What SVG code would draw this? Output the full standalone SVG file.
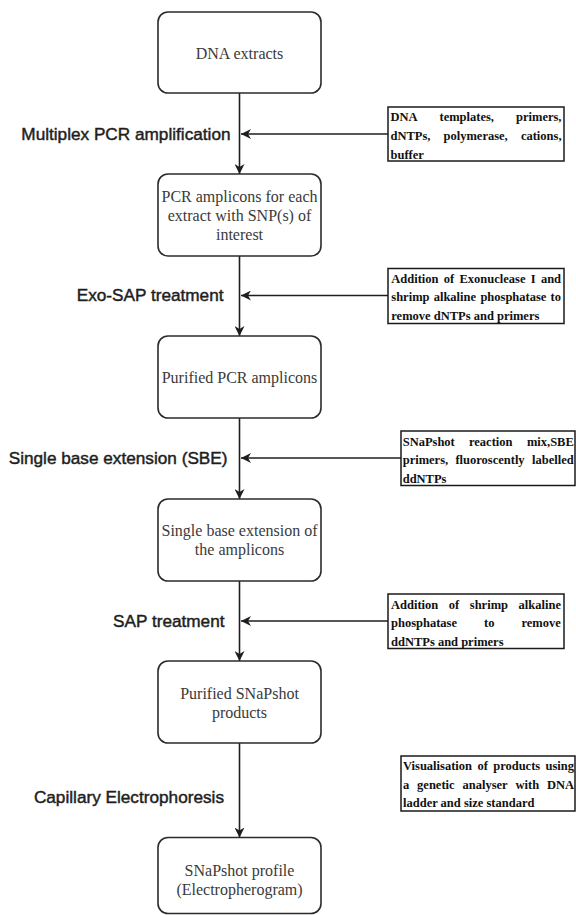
<svg xmlns="http://www.w3.org/2000/svg" width="576" height="915" viewBox="0 0 576 915">
  <style>
    .step { fill: #ffffff; stroke: #2b2b2b; stroke-width: 1.6; }
    .note { fill: #ffffff; stroke: #1a1a1a; stroke-width: 1.5; }
    .stepText { font-family: "Liberation Serif", "Times New Roman", serif; font-size: 16px; fill: #3a3a3a; text-anchor: middle; }
    .noteText { font-family: "Liberation Serif", "Times New Roman", serif; font-size: 12.5px; font-weight: bold; fill: #111111; }
    .label { font-family: "Liberation Sans", Arial, sans-serif; font-size: 17.2px; fill: #1e1e1e; stroke: #1e1e1e; stroke-width: 0.45; text-anchor: end; }
    .wire { fill: none; stroke: #1e1e1e; stroke-width: 1.6; }
  </style>
  <defs>
    <marker id="arrow" viewBox="0 0 10 10" refX="10" refY="5" markerWidth="10" markerHeight="10" markerUnits="userSpaceOnUse" orient="auto">
      <path d="M0,0 L10,5 L0,10 L3,5 Z" fill="#1e1e1e"/>
    </marker>
  </defs>

  <rect width="576" height="915" fill="#ffffff"/>

  <!-- connectors -->
  <g id="connectors">
    <path class="wire" d="M239.5,93 V174" marker-end="url(#arrow)"/>
    <path class="wire" d="M239.5,256 V336" marker-end="url(#arrow)"/>
    <path class="wire" d="M239.5,418 V499" marker-end="url(#arrow)"/>
    <path class="wire" d="M239.5,581 V661" marker-end="url(#arrow)"/>
    <path class="wire" d="M239.5,743 V837.5" marker-end="url(#arrow)"/>
    <path class="wire" d="M388,134 H241" marker-end="url(#arrow)"/>
    <path class="wire" d="M388,295.5 H241" marker-end="url(#arrow)"/>
    <path class="wire" d="M401,458 H241" marker-end="url(#arrow)"/>
    <path class="wire" d="M388,621 H241" marker-end="url(#arrow)"/>
  </g>

  <!-- process steps -->
  <g id="step-dna-extracts">
    <rect class="step" x="158" y="12" width="163" height="81" rx="10"/>
    <text class="stepText" x="239.5" y="59">DNA extracts</text>
  </g>
  <g id="step-pcr-amplicons">
    <rect class="step" x="158" y="174" width="163" height="82" rx="10"/>
    <text class="stepText" x="239.5" y="202">PCR amplicons for each</text>
    <text class="stepText" x="239.5" y="221">extract with SNP(s) of</text>
    <text class="stepText" x="239.5" y="240">interest</text>
  </g>
  <g id="step-purified-pcr">
    <rect class="step" x="158" y="336" width="163" height="82" rx="10"/>
    <text class="stepText" x="239.5" y="383">Purified PCR amplicons</text>
  </g>
  <g id="step-sbe-amplicons">
    <rect class="step" x="158" y="499" width="163" height="82" rx="10"/>
    <text class="stepText" x="239.5" y="536">Single base extension of</text>
    <text class="stepText" x="239.5" y="555">the amplicons</text>
  </g>
  <g id="step-purified-snapshot">
    <rect class="step" x="158" y="661" width="163" height="82" rx="10"/>
    <text class="stepText" x="239.5" y="698.5">Purified SNaPshot</text>
    <text class="stepText" x="239.5" y="717.5">products</text>
  </g>
  <g id="step-snapshot-profile">
    <rect class="step" x="158" y="837.5" width="163" height="76" rx="10"/>
    <text class="stepText" x="239.5" y="876">SNaPshot profile</text>
    <text class="stepText" x="239.5" y="895">(Electropherogram)</text>
  </g>

  <!-- step labels -->
  <g id="label-multiplex"><text class="label" x="230.5" y="140">Multiplex PCR amplification</text></g>
  <g id="label-exosap"><text class="label" x="223.5" y="301">Exo-SAP treatment</text></g>
  <g id="label-sbe"><text class="label" x="227.5" y="464">Single base extension (SBE)</text></g>
  <g id="label-sap"><text class="label" x="224.5" y="627">SAP treatment</text></g>
  <g id="label-ce"><text class="label" x="224" y="803">Capillary Electrophoresis</text></g>

  <!-- reagent notes (justified text, words placed individually) -->
  <g id="note-pcr-reagents">
    <rect class="note" x="388" y="107" width="176" height="54"/>
    <text class="noteText" y="121"><tspan x="390.5">DNA</tspan><tspan x="439.5">templates,</tspan><tspan x="516">primers,</tspan></text>
    <text class="noteText" y="140"><tspan x="390.5">dNTPs,</tspan><tspan x="443.5">polymerase,</tspan><tspan x="520.9">cations,</tspan></text>
    <text class="noteText" y="159"><tspan x="390.5">buffer</tspan></text>
  </g>
  <g id="note-exosap">
    <rect class="note" x="388" y="268.5" width="176" height="55"/>
    <text class="noteText" y="282.7"><tspan x="391.3">Addition</tspan><tspan x="443.8">of</tspan><tspan x="459.5">Exonuclease</tspan><tspan x="530.7">I</tspan><tspan x="540.9">and</tspan></text>
    <text class="noteText" y="301"><tspan x="391.3">shrimp</tspan><tspan x="433.7">alkaline</tspan><tspan x="480.4">phosphatase</tspan><tspan x="550.6">to</tspan></text>
    <text class="noteText" y="319.8"><tspan x="391.3">remove dNTPs and primers</tspan></text>
  </g>
  <g id="note-sbe-mix">
    <rect class="note" x="401" y="431" width="174" height="54.5"/>
    <text class="noteText" y="445.7"><tspan x="402.7">SNaPshot</tspan><tspan x="469">reaction</tspan><tspan x="526.9">mix,SBE</tspan></text>
    <text class="noteText" y="464.3"><tspan x="402.7">primers,</tspan><tspan x="455.4">fluoroscently</tspan><tspan x="532.1">labelled</tspan></text>
    <text class="noteText" y="482.8"><tspan x="402.7">ddNTPs</tspan></text>
  </g>
  <g id="note-sap">
    <rect class="note" x="388" y="594" width="176" height="54.5"/>
    <text class="noteText" y="608.5"><tspan x="391">Addition</tspan><tspan x="448.8">of</tspan><tspan x="469.8">shrimp</tspan><tspan x="518.6">alkaline</tspan></text>
    <text class="noteText" y="627"><tspan x="391">phosphatase</tspan><tspan x="484">to</tspan><tspan x="521.4">remove</tspan></text>
    <text class="noteText" y="645.5"><tspan x="391">ddNTPs and primers</tspan></text>
  </g>
  <g id="note-visualisation">
    <rect class="note" x="401" y="756" width="174" height="55"/>
    <text class="noteText" y="770"><tspan x="403">Visualisation</tspan><tspan x="477.6">of</tspan><tspan x="493.2">products</tspan><tspan x="545.5">using</tspan></text>
    <text class="noteText" y="788.5"><tspan x="403">a</tspan><tspan x="417.1">genetic</tspan><tspan x="462.5">analyser</tspan><tspan x="515.5">with</tspan><tspan x="546.9">DNA</tspan></text>
    <text class="noteText" y="807"><tspan x="403">ladder and size standard</tspan></text>
  </g>
</svg>
